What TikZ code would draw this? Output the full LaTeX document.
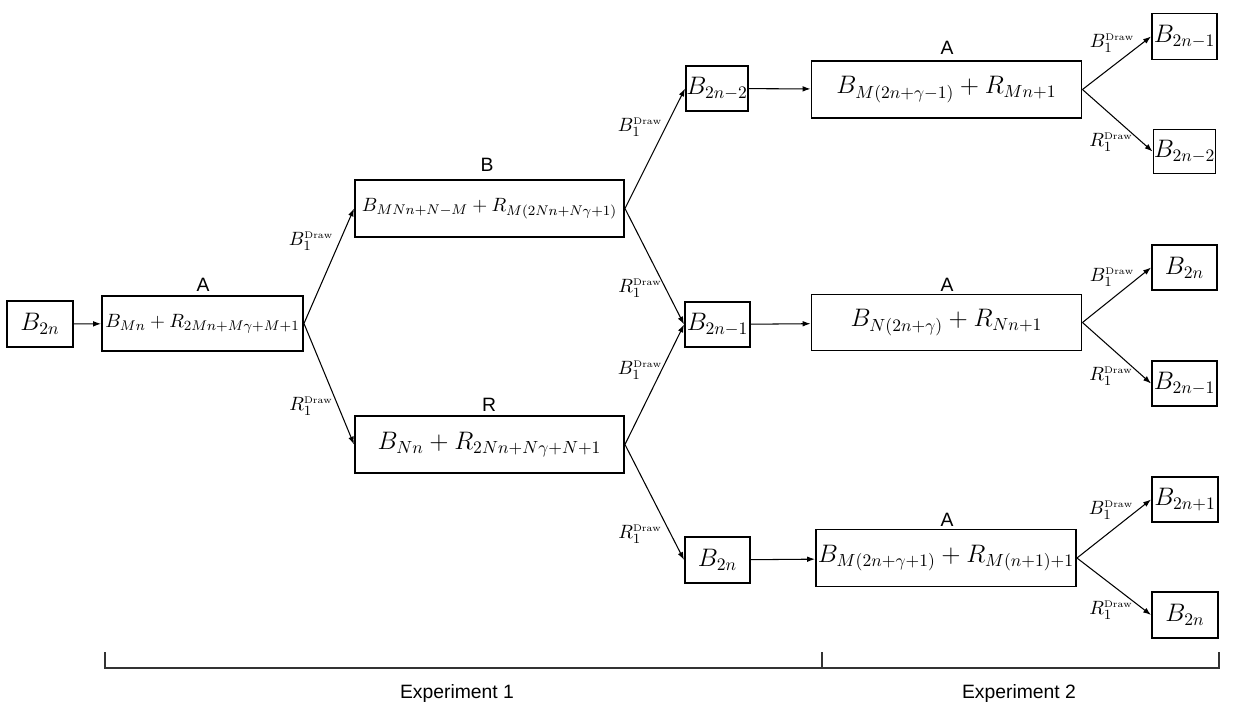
\documentclass[tikz,border=0pt]{standalone}
\usepackage{fontspec}
\setsansfont{Liberation Sans}
\usetikzlibrary{arrows.meta}
\newcommand\bdraw{B_1^{\scriptscriptstyle\mathrm{Draw}}}
\newcommand\rdraw{R_1^{\scriptscriptstyle\mathrm{Draw}}}
\begin{document}
\begin{tikzpicture}[x=0.02cm,y=-0.02cm,
  box/.style={draw,line width=1.1pt,inner sep=0pt},
  sz/.style 2 args={minimum width=#1*0.02cm,minimum height=#2*0.02cm},
  fs/.style={font=\fontsize{#1}{#1}\selectfont},
  lab/.style={font=\sffamily\fontsize{11}{13}\selectfont,inner sep=0pt},
  elab/.style={font=\fontsize{11}{13}\selectfont,inner sep=0pt},
  conn/.style={line width=0.6pt,-{Latex[length=4.5pt,width=3.2pt]}},
  brk/.style={line width=0.6pt,draw=black!80}]
\useasboundingbox (0,0) rectangle (1259,708);

% first column
\node[box,fs=14,sz={66}{46}] (n0) at (40,324) {$B_{2n}$};
\node[box,fs=11.3,sz={201}{55}] (nA) at (202.5,323.5) {$B_{Mn}+R_{2Mn+M\gamma+M+1}$};
\node[lab] (tA) at (203,285) {A};

% second column
\node[box,fs=11.4,sz={269}{57}] (nB) at (489.5,208.5) {$B_{MNn+N-M}+R_{M(2Nn+N\gamma+1)}$};
\node[lab] (tB) at (487,165) {B};
\node[box,fs=14.4,sz={269}{57}] (nR) at (489.5,444.5) {$B_{Nn}+R_{2Nn+N\gamma+N+1}$};
\node[lab] (tR) at (489,405) {R};

% third column
\node[box,fs=14,sz={62}{45}] (m1) at (717,88.5) {$B_{2n-2}$};
\node[box,fs=14,sz={65}{45}] (m2) at (717.5,324.5) {$B_{2n-1}$};
\node[box,fs=14,sz={65}{46}] (m3) at (717.5,560) {$B_{2n}$};

% fourth column
\node[box,fs=14.7,sz={270}{57}] (a1) at (946.5,89.5) {$B_{M(2n+\gamma-1)}+R_{Mn+1}$};
\node[lab] (ta1) at (947,48) {A};
\node[box,fs=14.6,sz={270}{56}] (a2) at (946.5,322.5) {$B_{N(2n+\gamma)}+R_{Nn+1}$};
\node[lab] (ta2) at (947,285) {A};
\node[box,fs=13.6,sz={260}{57}] (a3) at (946,558) {$B_{M(2n+\gamma+1)}+R_{M(n+1)+1}$};
\node[lab] (ta3) at (947,520) {A};

% leaves
\node[box,fs=14,sz={65}{46}] (L1) at (1184.5,36.5) {$B_{2n-1}$};
\node[box,fs=14,sz={62}{44}] (L2) at (1184.5,151.5) {$B_{2n-2}$};
\node[box,fs=14,sz={65}{45}] (L3) at (1184.5,267.5) {$B_{2n}$};
\node[box,fs=14,sz={65}{45}] (L4) at (1184.5,383.5) {$B_{2n-1}$};
\node[box,fs=14,sz={66}{45}] (L5) at (1185,499.5) {$B_{2n+1}$};
\node[box,fs=14,sz={66}{46}] (L6) at (1185,615) {$B_{2n}$};

% connectors
\draw[conn] (n0) -- (nA);
\draw[conn] (nA.east) -- (nB.west);
\draw[conn] (nA.east) -- (nR.west);
\draw[conn] (nB.east) -- (m1.west);
\draw[conn] (nB.east) -- (m2.west);
\draw[conn] (nR.east) -- (m2.west);
\draw[conn] (nR.east) -- (m3.west);
\draw[conn] (m1) -- (a1);
\draw[conn] (m2) -- (a2);
\draw[conn] (m3) -- (a3);
\draw[conn] (a1.east) -- (L1.west);
\draw[conn] (a1.east) -- (L2.west);
\draw[conn] (a2.east) -- (L3.west);
\draw[conn] (a2.east) -- (L4.west);
\draw[conn] (a3.east) -- (L5.west);
\draw[conn] (a3.east) -- (L6.west);

% connector labels
\node[elab] (e1) at (311,241) {$\bdraw$};
\node[elab] (e2) at (311,406) {$\rdraw$};
\node[elab] (e3) at (640,127) {$\bdraw$};
\node[elab] (e4) at (640,288) {$\rdraw$};
\node[elab] (e5) at (640,370) {$\bdraw$};
\node[elab] (e6) at (640,534) {$\rdraw$};
\node[elab] (e7) at (1112,43) {$\bdraw$};
\node[elab] (e8) at (1111,142) {$\rdraw$};
\node[elab] (e9) at (1112,277) {$\bdraw$};
\node[elab] (e10) at (1111,376) {$\rdraw$};
\node[elab] (e11) at (1111,510) {$\bdraw$};
\node[elab] (e12) at (1111,610) {$\rdraw$};

% experiment bracket
\coordinate (k1) at (105,652);
\coordinate (k2) at (822,652);
\coordinate (k3) at (1219,652);
\draw[brk] (k1) -- ++(0,16) -- ([yshift=-16*0.02cm]k3) -- (k3);
\draw[brk] (k2) -- ++(0,16);
\node[lab] (x1) at (457,693) {Experiment 1};
\node[lab] (x2) at (1019,693) {Experiment 2};
\end{tikzpicture}
\end{document}
